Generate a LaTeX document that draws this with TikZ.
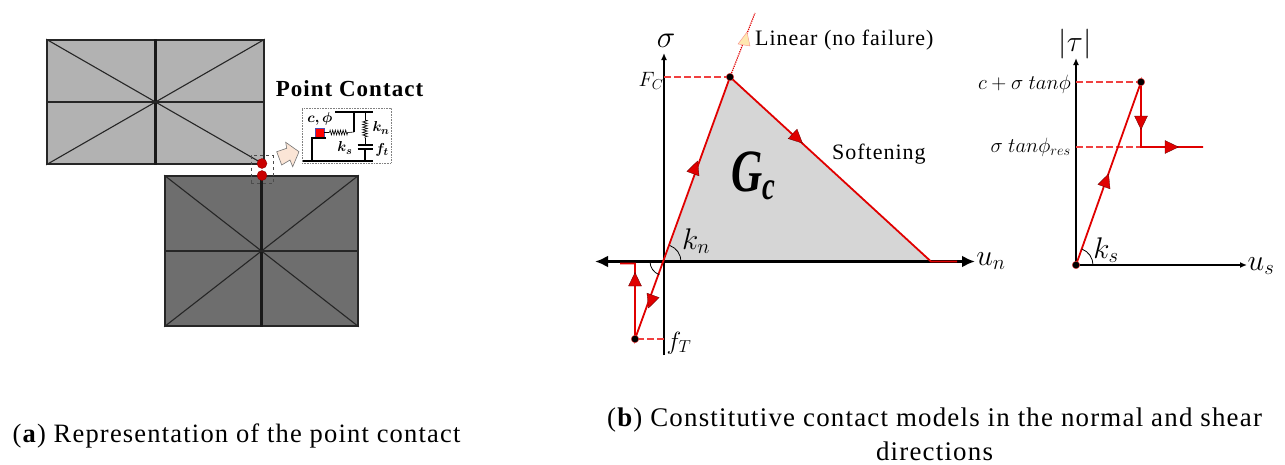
\documentclass[tikz,border=0pt]{standalone}
\usepackage{amsmath}
\usepackage{fontspec}
\setmainfont{Liberation Serif}
\newfontfamily\widefont[LetterSpace=4.5]{Liberation Serif}
\usetikzlibrary{positioning, arrows.meta, calc, decorations.pathmorphing}
\definecolor{blocklight}{HTML}{B2B2B2}
\definecolor{blockdark}{HTML}{6E6E6E}
\definecolor{areagray}{HTML}{D6D6D6}
\definecolor{lawred}{HTML}{E00000}
\definecolor{dashred}{HTML}{F04040}
\definecolor{peach}{HTML}{FBE5D6}
\definecolor{paleyellow}{HTML}{FFE8B0}
\tikzset{
  x=1pt, y=-1pt,
  blockbox/.style={draw=black!85, line width=1.6pt},
  meshline/.style={draw=black!85, line width=1.1pt},
  meshthick/.style={draw=black!90, line width=2.2pt},
  axisline/.style={draw=black, line width=1.5pt, -{Latex[length=7pt,width=6pt]}},
  lawline/.style={draw=lawred, line width=1.8pt},
  guideline/.style={draw=dashred, line width=1.1pt, dash pattern=on 7pt off 3pt},
  tipmark/.style={fill=lawred, draw=black!60!lawred, line width=0.3pt},
  statedot/.style={circle, fill=black, draw=dashred, line width=0.4pt, inner sep=0pt, minimum size=7.5pt},
  contactdot/.style={circle, fill=lawred!90!black, draw=lawred!60!black, line width=0.3pt, inner sep=0pt, minimum size=10pt},
  mathlabel/.style={inner sep=0pt, font=\fontsize{21}{23}\selectfont},
  bigmath/.style={inner sep=0pt, scale=#1, transform shape, font=\fontsize{24}{26}\selectfont},
  smalllabel/.style={inner sep=0pt, font=\fontsize{15}{17}\selectfont},
  plainlabel/.style={inner sep=0pt, font=\widefont\fontsize{22}{24}\selectfont},
  captionlabel/.style={inner sep=0pt, align=center, font=\widefont\fontsize{26}{34}\selectfont},
  springline/.style={draw=black, line width=0.6pt, decorate, decoration={zigzag, amplitude=2.4pt, segment length=2.6pt}},
  modelline/.style={draw=black, line width=1.1pt}
}
\newcommand{\tipat}[2]{\path[tipmark, shift={(#1)}, rotate=#2] (7.5,0) -- (-6,-6.5) -- (-6,6.5) -- cycle;}
\begin{document}
\begin{tikzpicture}
  \useasboundingbox (0,0) rectangle (1285,464);

  \node[blockbox, fill=blocklight, minimum width=217pt, minimum height=124pt, inner sep=0pt] (upperblock) at (155.5,102) {};
  \node[blockbox, fill=blockdark, minimum width=193pt, minimum height=150pt, inner sep=0pt] (lowerblock) at (261.5,251) {};
  \draw[meshline] (upperblock.north west) -- (upperblock.south east);
  \draw[meshline] (upperblock.south west) -- (upperblock.north east);
  \draw[meshthick] (upperblock.north) -- (upperblock.south);
  \draw[meshline] (upperblock.west) -- (upperblock.east);
  \draw[meshline] (lowerblock.north west) -- (lowerblock.south east);
  \draw[meshline] (lowerblock.south west) -- (lowerblock.north east);
  \draw[meshthick] (lowerblock.north) -- (lowerblock.south);
  \draw[meshline] (lowerblock.west) -- (lowerblock.east);

  \node[draw=black!70, dashed, line width=0.7pt, minimum width=22pt, minimum height=28pt, inner sep=0pt] (contactbox) at (262,169.5) {};
  \node[contactdot] (topdot) at (262,163.5) {};
  \node[contactdot] (botdot) at (262,175.5) {};

  \path[draw=black!55, fill=peach, line width=0.6pt] (276.7,151.7) -- (286.7,148.3) -- (285.7,142.3) -- (299,151.7)
    -- (292.7,166.7) -- (290,160) -- (281.7,165) -- cycle;
  \node[inner sep=0pt, font=\widefont\fontsize{23}{26}\selectfont\bfseries] (contacttitle) at (349.5,89) {Point Contact};

  \node[draw=black!50, densely dotted, line width=0.6pt, minimum width=89pt, minimum height=55pt, inner sep=0pt] (modelbox) at (346.5,135.5) {};
  \node[rectangle, fill=red, draw=blue!40!gray, line width=0.4pt, minimum size=9.5pt, inner sep=0pt] (slider) at (319.5,132.5) {};
  \coordinate (railleft) at (303,161);
  \coordinate (railright) at (373,161);
  \coordinate (topleft) at (335,112);
  \coordinate (topright) at (373,112);
  \coordinate (springend) at (354,132);
  \coordinate (hanger) at (354,112);
  \coordinate (nbranch) at (365,112);
  \coordinate (nspringtop) at (365,120);
  \coordinate (nspringbot) at (365,138);
  \coordinate (captop) at (365,145);
  \coordinate (capbot) at (365,149);
  \coordinate (stepa) at (312,138);
  \coordinate (stepb) at (326,138);
  \coordinate (stepc) at (312,161);
  \draw[modelline] (railleft) -- (railright);
  \draw[modelline] (topleft) -- (topright);
  \draw[modelline] (stepb) -- (stepa) -- (stepc);
  \draw[modelline] (hanger) -- (springend);
  \draw[draw=black, line width=0.6pt] (slider.east) -- ++(5,0) coordinate (sa);
  \draw[springline] (sa) -- ++(19,0) coordinate (sb);
  \draw[draw=black, line width=0.6pt] (sb) -- (springend);
  \draw[draw=black, line width=0.6pt] (nbranch) -- (nspringtop);
  \draw[springline] (nspringtop) -- (nspringbot);
  \draw[draw=black, line width=0.6pt] (nspringbot) -- (captop);
  \draw[modelline] ($(captop)+(-7.5,0)$) -- ($(captop)+(7.5,0)$);
  \draw[modelline] ($(capbot)+(-7.5,0)$) -- ($(capbot)+(7.5,0)$);
  \draw[modelline] (capbot) -- (railright -| capbot);
  \node[smalllabel] (cohesion) at (320,119) {$\boldsymbol{c,\phi}$};
  \node[smalllabel] (knlabel) at (381,128) {$\boldsymbol{k_n}$};
  \node[smalllabel] (kslabel) at (345,148) {$\boldsymbol{k_s}$};
  \node[smalllabel] (ftlabel) at (382,150) {$\boldsymbol{f_t}$};

  \coordinate (origin) at (664,261.5);
  \coordinate (peak) at (730,77);
  \coordinate (softend) at (931,261.5);
  \coordinate (residual) at (957,261.5);
  \coordinate (tensile) at (635,339);
  \coordinate (tenstop) at (635,263.5);
  \coordinate (tensleft) at (620,263.5);
  \coordinate (lineartip) at (755,13);
  \coordinate (fcaxis) at (664,77);
  \coordinate (ftaxis) at (664,339);
  \coordinate (axisbottom) at (664,355);
  \coordinate (axistop) at (664,53);
  \coordinate (unleft) at (595,261.5);
  \coordinate (unright) at (975,261.5);

  \fill[areagray] (origin) -- (peak) -- (softend) -- cycle;
  \draw[axisline] (axisbottom) -- (axistop);
  \draw[draw=black, line width=3.2pt, {Latex[length=13pt,width=12pt]}-{Latex[length=13pt,width=12pt]}] (unleft) -- (unright);
  \draw[guideline] (fcaxis) -- (peak);
  \draw[guideline] (ftaxis) -- (tensile);
  \draw[draw=lawred, line width=1.2pt, densely dotted] (peak) -- (lineartip);
  \path[fill=paleyellow, draw=dashred!60, line width=0.4pt] (747,32) -- (738,44) -- (750,46) -- cycle;
  \draw[lawline] (tensleft) -- (tenstop) -- (tensile) -- (peak) -- (softend) -- (residual);

  \draw[line width=0.8pt] ($(origin)+(17,0)$) arc[start angle=0, end angle=70, radius=17pt];
  \draw[line width=0.8pt] ($(origin)+(-14,0)$) arc[start angle=180, end angle=250, radius=14pt];

  \tipat{695,168}{70}
  \tipat{797,138}{-43}
  \tipat{635,280}{90}
  \tipat{651,301}{-110}

  \node[statedot] (peakdot) at (peak) {};
  \node[statedot] (tensiledot) at (tensile) {};

  \node[bigmath=1.25] (sigmalabel) at (666,41) {$\sigma$};
  \node[mathlabel] (fclabel) at (651,81) {$F_C$};
  \node[mathlabel, font=\fontsize{23}{25}\selectfont] (ftlabelb) at (679,343) {$f_T$};
  \node[bigmath=1.2] (knmain) at (696,241) {$k_n$};
  \node[bigmath=1.2] (unlabel) at (991,261) {$u_n$};
  \node[plainlabel, anchor=west] (linearlabel) at (755,40) {Linear (no failure)};
  \node[plainlabel, anchor=west] (softlabel) at (832,154) {Softening};
  \node[inner sep=0pt, xscale=0.72, transform shape, font=\fontsize{60}{62}\selectfont\bfseries\itshape] (gclabel) at (753.5,176) {G\raisebox{-8pt}{\fontsize{40}{40}\selectfont c}};

  \coordinate (shearorigin) at (1076,265);
  \coordinate (shearpeak) at (1141,82);
  \coordinate (shearstep) at (1141,147);
  \coordinate (shearend) at (1203,147);
  \coordinate (sheartop) at (1076,58);
  \coordinate (shearright) at (1247,265);
  \coordinate (peakaxis) at (1076,82);
  \coordinate (resaxis) at (1076,147);
  \draw[axisline] (shearorigin) -- (sheartop);
  \draw[axisline] (shearorigin) -- (shearright);
  \draw[guideline] (peakaxis) -- (shearpeak);
  \draw[guideline] (resaxis) -- (shearstep);
  \draw[lawline] (shearorigin) -- (shearpeak) -- (shearstep) -- (shearend);
  \draw[line width=0.8pt] ($(shearorigin)+(17,0)$) arc[start angle=0, end angle=70, radius=17pt];
  \tipat{1106,181}{70}
  \tipat{1141,122}{-90}
  \tipat{1171,147}{0}
  \node[statedot] (shearpeakdot) at (shearpeak) {};
  \node[statedot] (shearorigindot) at (shearorigin) {};

  \node[bigmath=1.2] (taulabel) at (1075,44) {$|\tau|$};
  \node[mathlabel, font=\fontsize{21.5}{24}\selectfont, anchor=east] (peaklabel) at (1071,84) {$c+\sigma\ tan\phi$};
  \node[mathlabel, font=\fontsize{21.5}{24}\selectfont, anchor=east] (reslabel) at (1071,147) {$\sigma\ tan\phi_{res}$};
  \node[bigmath=1.2] (kslabelb) at (1106,250) {$k_s$};
  \node[bigmath=1.2] (uslabel) at (1261,266) {$u_s$};

  \node[captionlabel, font=\widefont\fontsize{26.5}{34}\selectfont] (captiona) at (236.5,436) {(\textbf{a}) Representation of the point contact};
  \node[captionlabel, font=\widefont\fontsize{26.9}{34}\selectfont] (captionb) at (934.5,434) {(\textbf{b}) Constitutive contact models in the normal and shear\\directions};
\end{tikzpicture}
\end{document}
